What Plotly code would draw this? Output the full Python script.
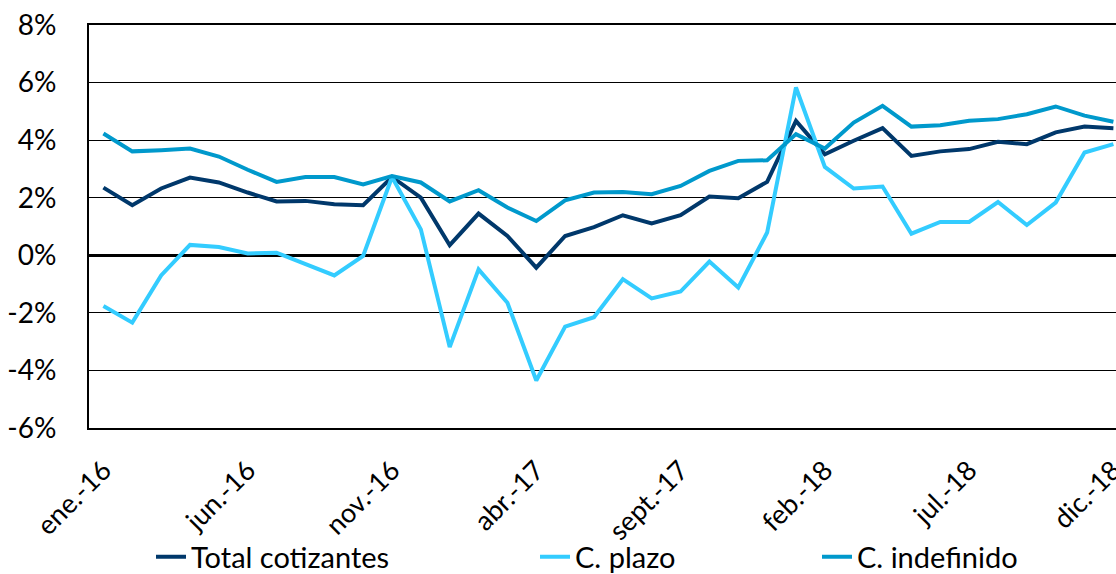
import plotly.graph_objects as go

months = ["ene.-16","feb.-16","mar.-16","abr.-16","may.-16","jun.-16","jul.-16","ago.-16","sept.-16","oct.-16",
          "nov.-16","dic.-16","ene.-17","feb.-17","mar.-17","abr.-17","may.-17","jun.-17","jul.-17","ago.-17",
          "sept.-17","oct.-17","nov.-17","dic.-17","ene.-18","feb.-18","mar.-18","abr.-18","may.-18","jun.-18",
          "jul.-18","ago.-18","sept.-18","oct.-18","nov.-18","dic.-18"]

total = [2.35,1.74,2.32,2.70,2.53,2.18,1.87,1.89,1.77,1.74,
         2.72,2.00,0.35,1.45,0.67,-0.43,0.67,0.98,1.39,1.11,
         1.39,2.04,1.98,2.55,4.67,3.51,3.98,4.42,3.45,3.61,
         3.69,3.94,3.86,4.27,4.47,4.41]

plazo = [-1.76,-2.34,-0.70,0.36,0.29,0.06,0.09,-0.31,-0.70,-0.02,
         2.72,0.90,-3.19,-0.49,-1.65,-4.35,-2.48,-2.15,-0.83,-1.50,
         -1.26,-0.22,-1.12,0.79,5.83,3.07,2.32,2.39,0.75,1.16,
         1.16,1.85,1.05,1.83,3.57,3.86]

indefinido = [4.23,3.61,3.65,3.71,3.43,2.97,2.55,2.72,2.72,2.46,
              2.75,2.53,1.87,2.26,1.66,1.19,1.91,2.18,2.20,2.12,
              2.41,2.93,3.28,3.30,4.21,3.71,4.61,5.19,4.47,4.52,
              4.67,4.73,4.90,5.17,4.85,4.64]

x_tick_idx = [0, 5, 10, 15, 20, 25, 30, 35]
x_tick_text = ["ene.-16","jun.-16","nov.-16","abr.-17","sept.-17","feb.-18","jul.-18","dic.-18"]
y_tick_vals = [-6, -4, -2, 0, 2, 4, 6, 8]
y_tick_text = ["-6%","-4%","-2%","0%","2%","4%","6%","8%"]

FONT = "Lato"
x = list(range(len(months)))

fig = go.Figure()
fig.add_trace(go.Scatter(x=x, y=total, mode="lines", name="Total cotizantes",
                         line=dict(color="#00386B", width=4), legend="legend"))
fig.add_trace(go.Scatter(x=x, y=plazo, mode="lines", name="C. plazo",
                         line=dict(color="#33CCFF", width=4), legend="legend2"))
fig.add_trace(go.Scatter(x=x, y=indefinido, mode="lines", name="C. indefinido",
                         line=dict(color="#0099CC", width=4), legend="legend3"))

leg_common = dict(orientation="h", xref="container", yref="container", yanchor="middle",
                  xanchor="left", y=(574 - 557) / 574, font=dict(family=FONT, size=29, color="black"),
                  bgcolor="rgba(0,0,0,0)", borderwidth=0)

fig.update_layout(
    width=1116, height=574,
    margin=dict(l=89, r=0, t=25, b=146, autoexpand=False),
    paper_bgcolor="white", plot_bgcolor="white",
    font=dict(family=FONT, size=28, color="black"),
    showlegend=True,
    legend=dict(leg_common, x=151 / 1116),
    legend2=dict(leg_common, x=535 / 1116),
    legend3=dict(leg_common, x=817 / 1116),
    xaxis=dict(range=[-0.5, 35.09], tickmode="array", tickvals=x_tick_idx, ticktext=x_tick_text,
               tickangle=-45, showgrid=False, zeroline=False, showline=True, mirror=True,
               linecolor="black", linewidth=1.5, ticks="", ticklabelstandoff=14, automargin=False,
               ticklabeloverflow="allow",
               tickfont=dict(family=FONT, size=27, color="black")),
    yaxis=dict(range=[-6, 8], tickmode="array", tickvals=y_tick_vals, ticktext=y_tick_text,
               showgrid=True, gridcolor="black", gridwidth=1.3,
               zeroline=True, zerolinecolor="black", zerolinewidth=3,
               showline=True, linecolor="black", linewidth=2, ticks="", automargin=False,
               ticklabelstandoff=25, tickfont=dict(family=FONT, size=28, color="black")),
)

fig.write_html("out.html", config={"displayModeBar": False},
               post_script="document.body.style.margin='0';document.body.style.overflow='hidden';")
